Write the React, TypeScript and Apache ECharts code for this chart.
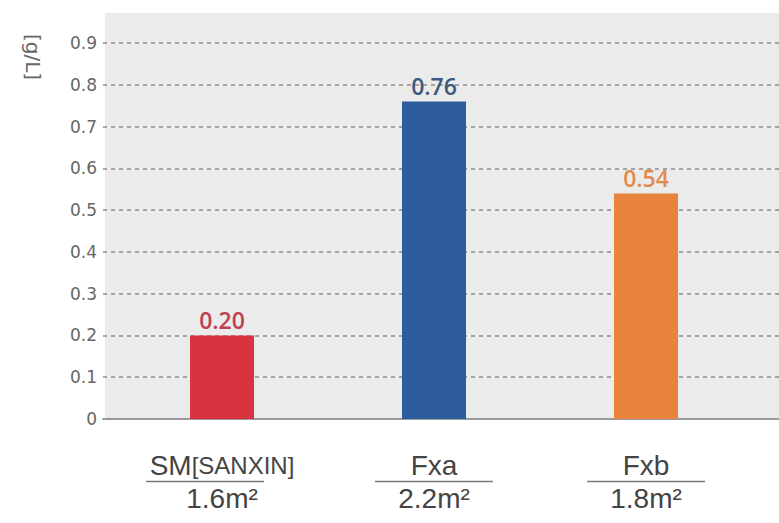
import React, { useEffect, useRef } from "react";
import * as echarts from "echarts";

const nameMain = ["SM", "Fxa", "Fxb"];
const nameSub = ["[SANXIN]", "", ""];
const areas = ["1.6m²", "2.2m²", "1.8m²"];
const values = [0.2, 0.76, 0.54];
const valueLabels = ["0.20", "0.76", "0.54"];
const barColors = ["#d7343f", "#2c5c9d", "#e8833b"];
const labelColors = ["#bf3f55", "#3a5a7e", "#e28a4c"];
const unitLabel = "[g/L]";
const yMax = 0.9;
const yStep = 0.1;

export default function App() {
  const ref = useRef<HTMLDivElement>(null);
  useEffect(() => {
    document.body.style.margin = "0";
    if (!ref.current) return;
    const chart = echarts.init(ref.current, null, { renderer: "svg" });
    const catFont = "'Liberation Sans', Arial, sans-serif";
    const valFont = "'Open Sans', 'Noto Sans', sans-serif";
    chart.setOption({
      animation: false,
      backgroundColor: "#ffffff",
      graphic: [
        {
          type: "rect",
          z: -10,
          shape: { x: 105, y: 13, width: 674, height: 406 },
          style: { fill: "#ebebeb" },
          silent: true,
        },
        {
          type: "text",
          x: 33,
          y: 57,
          rotation: -Math.PI / 2,
          style: {
            text: unitLabel,
            fontSize: 20,
            fontFamily: "'DejaVu Sans', sans-serif",
            fill: "#666",
            align: "center",
            verticalAlign: "middle",
          },
        },
      ],
      grid: [
        { left: 103, right: 0, top: 43, bottom: 104 },
        { left: 116, right: 27, top: 43, bottom: 104 },
      ],
      xAxis: [
        {
          type: "value",
          gridIndex: 0,
          min: 0,
          max: 1,
          axisLine: { show: true, lineStyle: { color: "#9a9a9a", width: 2 } },
          axisTick: { show: false },
          axisLabel: { show: false },
          splitLine: { show: false },
        },
        {
          type: "category",
          gridIndex: 1,
          data: nameMain,
          axisLine: { show: false },
          axisTick: { show: false },
          axisLabel: {
            margin: 31,
            formatter: (_v: string, i: number) =>
              `{n|${nameMain[i]}}` +
              (nameSub[i] ? `{s|${nameSub[i]}}` : "") +
              (nameSub[i] ? `\n{hr|}{sp|}` : `\n{hr|}`) +
              `\n{n|${areas[i]}}`,
            rich: {
              n: { fontSize: 28, fontFamily: catFont, color: "#444", lineHeight: 30 },
              s: { fontSize: 24, fontFamily: catFont, color: "#444", lineHeight: 30 },
              hr: { width: 118, height: 1.5, backgroundColor: "#7a7a7a", lineHeight: 3 },
              sp: { width: 34, height: 1.5, lineHeight: 3 },
            },
          },
        },
      ],
      yAxis: [
        {
          type: "value",
          gridIndex: 0,
          min: 0,
          max: yMax,
          interval: yStep,
          axisLine: { show: false },
          axisTick: { show: false },
          axisLabel: {
            margin: 6,
            fontSize: 17,
            fontFamily: "'DejaVu Sans', sans-serif",
            color: "#666",
            formatter: (v: number) => (v === 0 ? "0" : v.toFixed(1)),
          },
          splitLine: {
            show: true,
            lineStyle: { color: "#8c8c8c", type: [4, 4], width: 1.5 },
          },
        },
        {
          type: "value",
          gridIndex: 1,
          min: 0,
          max: yMax,
          interval: yStep,
          show: false,
          splitLine: { show: false },
        },
      ],
      series: [
        {
          type: "bar",
          xAxisIndex: 1,
          yAxisIndex: 1,
          barWidth: 64,
          data: values.map((v, i) => ({
            value: v,
            itemStyle: { color: barColors[i] },
            label: {
              show: true,
              position: "top",
              distance: 4,
              formatter: valueLabels[i],
              color: labelColors[i],
              fontSize: 23,
              fontWeight: 600,
              fontFamily: valFont,
            },
          })),
        },
      ],
    });
    return () => chart.dispose();
  }, []);
  return <div ref={ref} style={{ width: 779, height: 523 }} />;
}
